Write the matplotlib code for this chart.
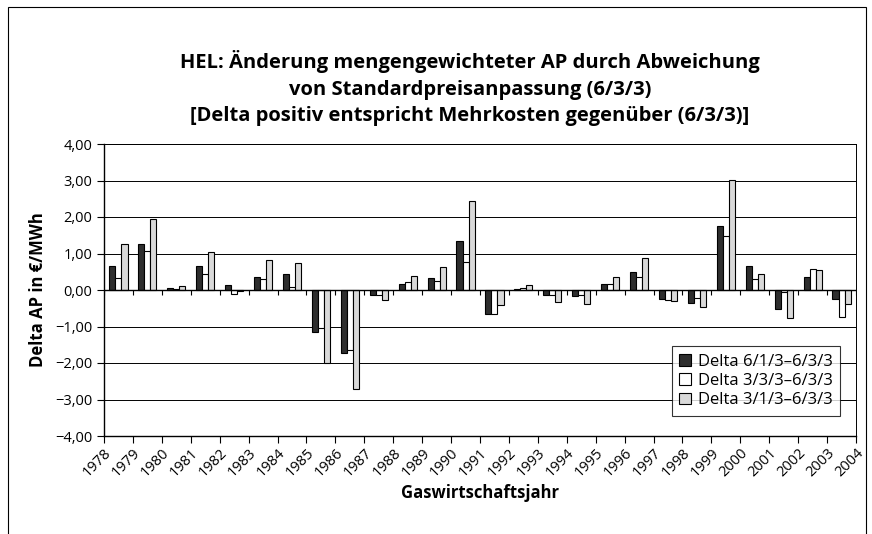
import numpy as np
import matplotlib.pyplot as plt

plt.rcParams['font.family'] = ['Open Sans', 'DejaVu Sans']

# Gaswirtschaftsjahre (Beschriftung an den Kategoriegrenzen)
jahre = [str(j) for j in range(1978, 2005)]

# Delta AP in EUR/MWh, je Gaswirtschaftsjahr 1978/79 ... 2003/04
d613 = [0.66, 1.25, 0.05, 0.66, 0.15, 0.36, 0.45, -1.16, -1.72, -0.15, 0.17, 0.33, 1.35,
        -0.65, 0.04, -0.15, -0.16, 0.16, 0.50, -0.26, -0.36, 1.76, 0.67, -0.52, 0.36, -0.25]
d333 = [0.34, 1.08, 0.03, 0.45, -0.11, 0.31, 0.07, -1.04, -1.65, -0.13, 0.22, 0.26, 0.76,
        -0.65, 0.05, -0.13, -0.13, 0.16, 0.35, -0.28, -0.21, 1.47, 0.30, -0.06, 0.58, -0.73]
d313 = [1.26, 1.94, 0.11, 1.05, -0.03, 0.83, 0.75, -2.01, -2.71, -0.27, 0.38, 0.63, 2.44,
        -0.40, 0.14, -0.34, -0.37, 0.36, 0.88, -0.29, -0.47, 3.01, 0.45, -0.78, 0.55, -0.38]

reihen = ['Delta 6/1/3\u20136/3/3', 'Delta 3/3/3\u20136/3/3', 'Delta 3/1/3\u20136/3/3']
farben = ['#2e2e2e', 'white', '#d9d9d9']

fig = plt.figure(figsize=(8.72, 5.34), dpi=100)
ax = fig.add_axes([104/872, 1 - 436/534, 752/872, 292/534])

x = np.arange(len(d613)) + 0.5
b = 0.21
for k, (werte, name, farbe) in enumerate(zip([d613, d333, d313], reihen, farben)):
    ax.bar(x + (k - 1)*b, werte, b, color=farbe, edgecolor='black', linewidth=0.8,
           label=name, zorder=3)

ax.set_xlim(0, len(d613))
ax.set_ylim(-4, 4)
ax.set_yticks(np.arange(-4, 5, 1))
ax.set_yticklabels([('%.2f' % v).replace('.', ',').replace('-', '\u2212') for v in np.arange(-4, 5, 1)],
                   fontsize=10.5)
ax.set_xticks(np.arange(len(jahre)))
ax.set_xticklabels(jahre, rotation=45, ha='right', va='top', rotation_mode='anchor', fontsize=10.5)
ax.tick_params(axis='both', direction='out', length=5, width=0.8, color='black')
ax.tick_params(axis='x', pad=2)

ax.grid(axis='y', color='black', linewidth=0.7, zorder=0)
ax.axhline(0, color='black', linewidth=1.0, zorder=4)
ax.vlines(np.arange(len(jahre)), -0.14, 0, color='black', linewidth=0.8, zorder=4)
for s in ['top', 'right']:
    ax.spines[s].set_linewidth(0.7)
for s in ['left', 'bottom']:
    ax.spines[s].set_linewidth(1.0)

ax.set_ylabel('Delta AP in \u20ac/MWh', fontsize=12, fontweight='bold', labelpad=6)
ax.set_xlabel('Gaswirtschaftsjahr', fontsize=12, fontweight='bold', labelpad=3)

leg = ax.legend(loc='lower right', bbox_to_anchor=(0.99, 0.04), fontsize=12, frameon=True,
                fancybox=False, edgecolor='black', handlelength=0.7, handleheight=0.7,
                handletextpad=0.4, borderpad=0.45, labelspacing=0.2)
leg.get_frame().set_linewidth(0.8)
leg.set_zorder(5)

fig.text(470/872, 1 - 88/534,
         'HEL: \u00c4nderung mengengewichteter AP durch Abweichung\n'
         'von Standardpreisanpassung (6/3/3)\n'
         '[Delta positiv entspricht Mehrkosten gegen\u00fcber (6/3/3)]',
         ha='center', va='center', fontsize=14.5, fontweight='bold', linespacing=1.45)

# Rahmen um das Diagramm
rahmen = plt.Rectangle((8/872, -0.05), 858/872, 1.05 - 7/534, transform=fig.transFigure,
                       fill=False, edgecolor='black', linewidth=0.8)
fig.add_artist(rahmen)

fig.savefig('out.png', dpi=100)
